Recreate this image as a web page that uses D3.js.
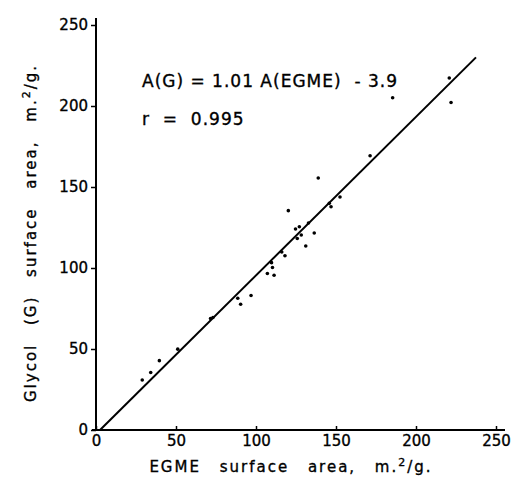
<!DOCTYPE html>
<html><head><meta charset="utf-8">
<script src="https://cdn.jsdelivr.net/npm/d3@7"></script>
<style>body{margin:0;background:#fff}svg{display:block}text{font-family:"DejaVu Sans",sans-serif;fill:#000;stroke:#000;stroke-width:0.35px}</style>
</head><body><div id="c"></div>
<script>
const egme = [28.9,34.2,39.6,51.1,71.6,73.1,88.6,90.4,96.9,107.1,111.3,109.7,110.3,116.1,118.1,120.2,124.7,127.1,125.8,128.3,131.1,132.8,136.4,138.9,145.8,146.9,152.5,171.3,185.4,220.8,221.9];
const glycol = [30.9,35.5,42.8,49.9,68.8,69.4,81.3,77.6,83.0,96.6,95.5,103.3,100.3,109.9,107.6,135.4,124.1,125.5,118.2,120.4,113.6,127.8,121.6,155.6,139.9,137.8,143.8,169.3,205.1,217.3,202.2];
const fitX = [2.5, 237.5];
const fitY = [0, 230];
const xTicks = [0,50,100,150,200,250];
const yTicks = [0,50,100,150,200,250];

const W=519,H=485;
const svg=d3.select("#c").append("svg").attr("width",W).attr("height",H);
const x=d3.scaleLinear().domain([0,250]).range([96,496]);
const y=d3.scaleLinear().domain([0,250]).range([430,25]);

svg.append("line").attr("x1",x(0)).attr("x2",x(0)).attr("y1",y(0)).attr("y2",18).attr("stroke","#000").attr("stroke-width",2);
svg.append("line").attr("x1",x(0)-4).attr("x2",505).attr("y1",y(0)).attr("y2",y(0)).attr("stroke","#000").attr("stroke-width",2);

const ya=svg.append("g").attr("transform",`translate(${x(0)},0)`).call(d3.axisLeft(y).tickValues(yTicks).tickSize(5).tickPadding(3));
ya.select(".domain").remove();
ya.selectAll("line").attr("stroke-width",1.5);
ya.selectAll("text").style("font-size","15px").style("font-family","DejaVu Sans");
const xa=svg.append("g").attr("transform",`translate(0,${y(0)})`).call(d3.axisBottom(x).tickValues(xTicks).tickSize(-4).tickPadding(5));
xa.select(".domain").remove();
xa.selectAll("line").attr("stroke-width",1.5);
xa.selectAll("text").style("font-size","15px").style("font-family","DejaVu Sans");

svg.append("line").attr("x1",x(fitX[0])).attr("y1",y(fitY[0])).attr("x2",x(fitX[1])).attr("y2",y(fitY[1])).attr("stroke","#000").attr("stroke-width",2);

svg.append("g").selectAll("circle").data(egme).join("circle")
 .attr("cx",(d)=>x(d)).attr("cy",(d,i)=>y(glycol[i])).attr("r",1.8).attr("fill","#000");

svg.append("text").attr("x",142).attr("y",87).style("font-size","17px").style("letter-spacing","1px").attr("xml:space","preserve").text("A(G) = 1.01 A(EGME)  - 3.9");
svg.append("text").attr("x",142).attr("y",125).style("font-size","17px").style("letter-spacing","1px").attr("xml:space","preserve").text("r  =  0.995");

svg.append("text").attr("x",291).attr("y",472).attr("text-anchor","middle").style("font-size","15px").style("letter-spacing","2px").style("word-spacing","12px")
 .html('EGME surface area, m.<tspan dy="-6" font-size="11">2</tspan><tspan dy="6">/g.</tspan>');
svg.append("text").attr("transform","translate(36,233) rotate(-90)").attr("text-anchor","middle").style("font-size","15px").style("letter-spacing","2px").style("word-spacing","12px")
 .html('Glycol (G) surface area, m.<tspan dy="-6" font-size="11">2</tspan><tspan dy="6">/g.</tspan>');
</script></body></html>
